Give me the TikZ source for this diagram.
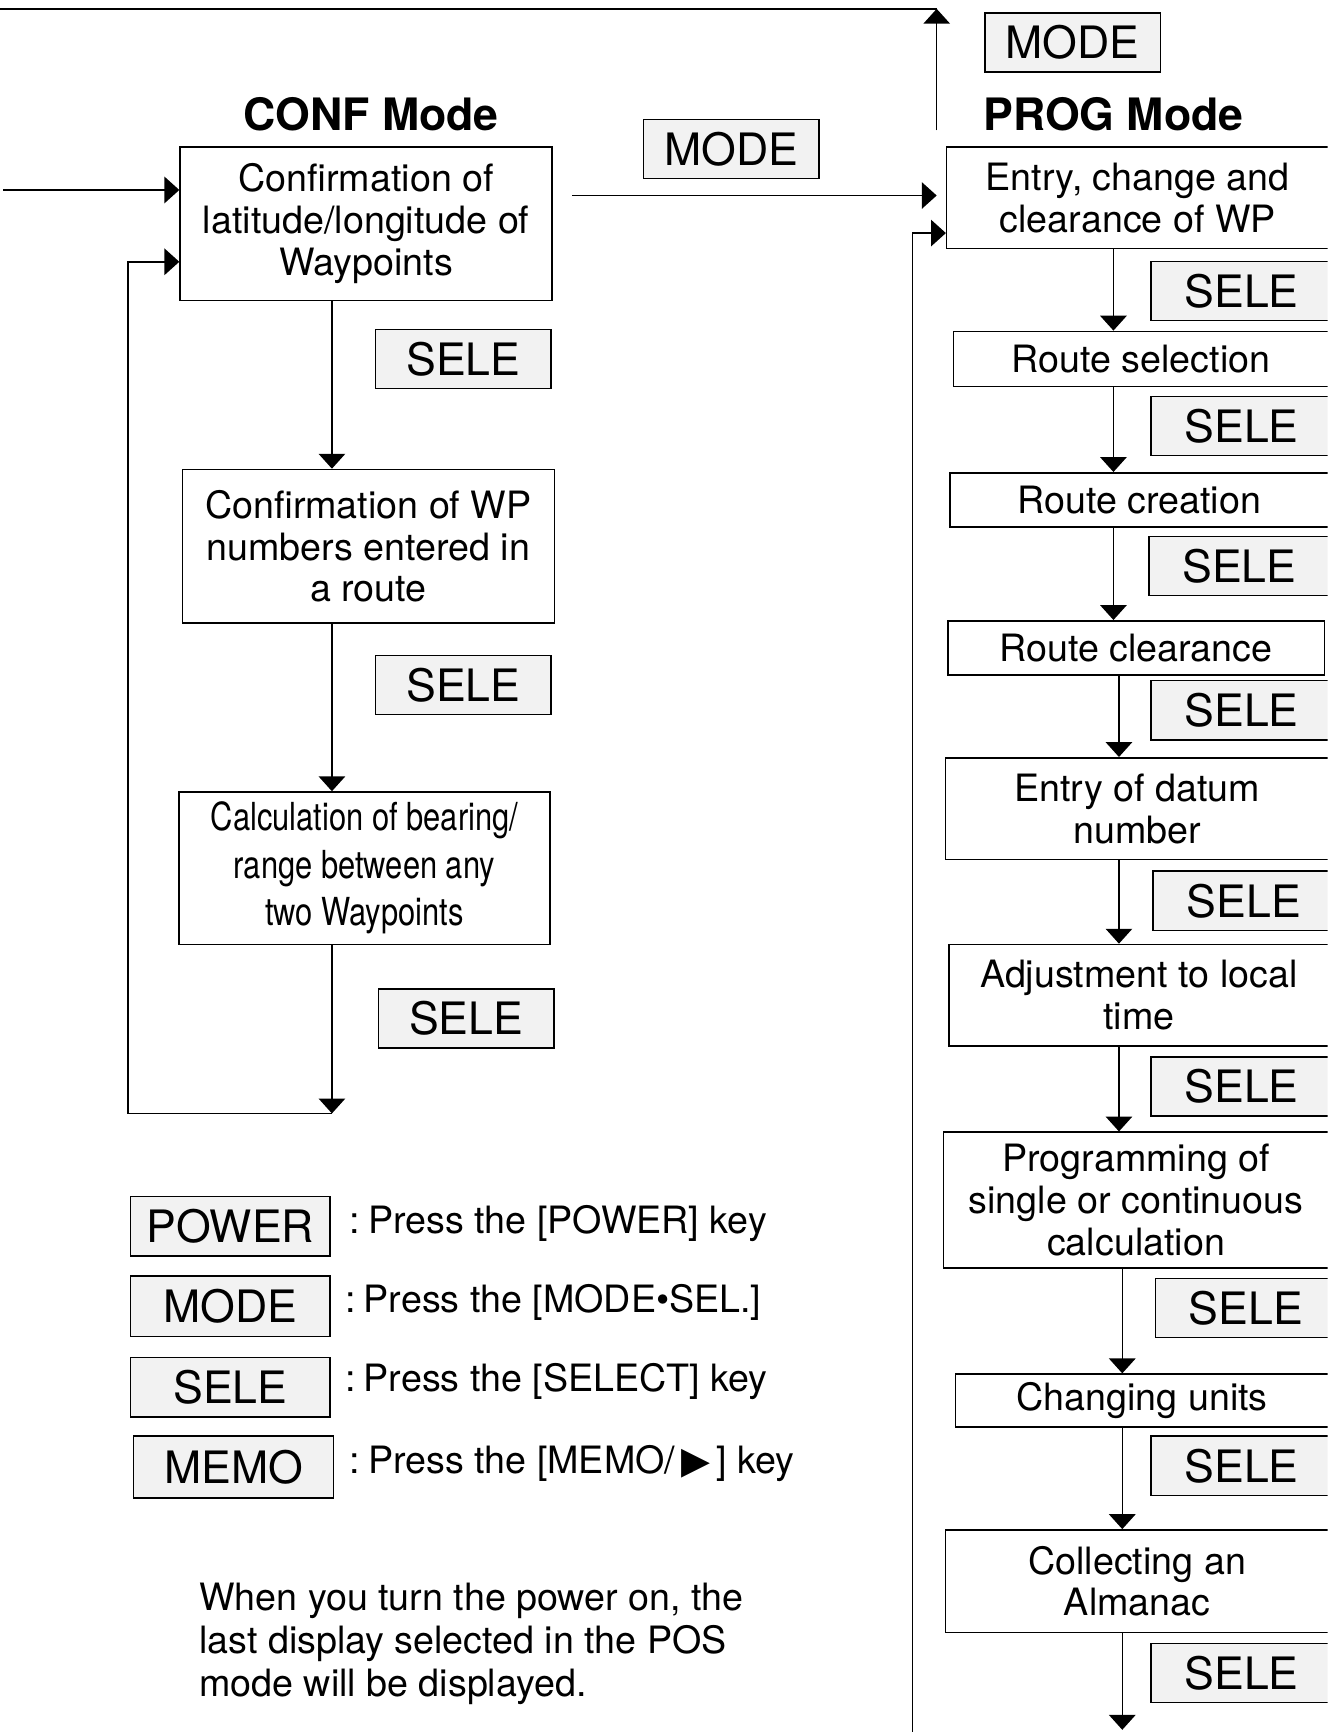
\documentclass[tikz,border=0pt]{standalone}
\usepackage{fontspec}
\setmainfont{TeX Gyre Heros}
\newfontfamily\narrowfont{TeX Gyre Heros}[FakeStretch=0.8]
\newfontfamily\symbolfont{DejaVu Sans}
\usetikzlibrary{arrows.meta}

\begin{document}
\begin{tikzpicture}[
    x=0.02cm,
    y=-0.02cm,
    font=\fontsize{19.4}{21.6}\selectfont,
    stage/.style={
        draw,
        line width=0.8pt,
        align=center,
        inner sep=0pt
    },
    key/.style={
        draw,
        line width=0.8pt,
        fill=gray!10,
        inner sep=0pt,
        minimum width=3.18cm,
        minimum height=1.07cm,
        font=\fontsize{23}{26}\selectfont
    },
    rkey/.style={
        key,
        minimum width=3.28cm
    },
    title/.style={
        font=\bfseries\fontsize{23}{26}\selectfont
    },
    arrow/.style={
        -{Triangle[width=0.48cm,length=0.27cm]},
        line width=0.8pt
    }
]

\useasboundingbox (0,0) rectangle (1202,1568);
\clip (0,0) rectangle (1202,1568);

% CONF mode
\node[title] (conftitle) at (336,103) {CONF Mode};
\node[stage, minimum width=6.74cm, minimum height=2.78cm] (conf1) at (331.5,202.5) {Confirmation of\\latitude/longitude of\\Waypoints};
\node[stage, minimum width=6.74cm, minimum height=2.78cm] (conf2) at (333.5,494.5) {Confirmation of WP\\numbers entered in\\a route};
\node[stage, minimum width=6.72cm, minimum height=2.76cm, font=\narrowfont\fontsize{19.9}{24.5}\selectfont] (conf3) at (330,786) {Calculation of bearing/\\range between any\\two Waypoints};

\node[key] (confsel1) at (419.5,325) {SELE};
\node[key] (confsel2) at (419.5,620) {SELE};
\node[key] (confsel3) at (422,922) {SELE};

\coordinate (confline) at (300.5,0);
\coordinate (confend) at (300.5,1008);
\coordinate (confback) at (116,237);
\coordinate (confin) at (3,172);

\draw[arrow] (conf1.south -| confline) -- (conf2.north -| confline);
\draw[arrow] (conf2.south -| confline) -- (conf3.north -| confline);
\draw[arrow] (conf3.south -| confline) -- (confend);
\draw[arrow] (confend) -| (confback) -- (conf1.west |- confback);
\draw[arrow] (confin) -- (conf1.west |- confin);

% MODE to PROG
\node[key] (modemid) at (662,135) {MODE};
\node[key] (modetop) at (971,38.5) {MODE};
\coordinate (modeout) at (518,177);
\coordinate (progup) at (848,118);
\coordinate (topcorner) at (848,8);
\coordinate (topleft) at (0,8);

\draw[arrow] (modeout) -- (progup |- modeout);
\draw[arrow] (progup) -- (topcorner);
\draw[line width=0.8pt] (topcorner) -- (topleft);

% PROG mode
\node[title] (progtitle) at (1008,103) {PROG Mode};
\node[stage, minimum width=6.92cm, minimum height=1.84cm] (prog1) at (1030,179) {Entry, change and\\clearance of WP};
\node[stage, minimum width=6.80cm, minimum height=1.00cm] (prog2) at (1033,325) {Route selection};
\node[stage, minimum width=6.86cm, minimum height=0.98cm] (prog3) at (1031.5,452.5) {Route creation};
\node[stage, minimum width=6.82cm, minimum height=0.98cm] (prog4) at (1028.5,586.5) {Route clearance};
\node[stage, minimum width=6.94cm, minimum height=1.84cm] (prog5) at (1029.5,732) {Entry of datum\\number};
\node[stage, minimum width=6.88cm, minimum height=1.84cm] (prog6) at (1031,901) {Adjustment to local\\time};
\node[stage, minimum width=6.98cm, minimum height=2.46cm] (prog7) at (1028.5,1086.5) {Programming of\\single or continuous\\calculation};
\node[stage, minimum width=6.76cm, minimum height=0.96cm] (prog8) at (1034,1268) {Changing units};
\node[stage, minimum width=6.94cm, minimum height=1.86cm] (prog9) at (1029.5,1431.5) {Collecting an\\Almanac};

\node[rkey] (progsel1) at (1124,263.5) {SELE};
\node[rkey] (progsel2) at (1124,385.5) {SELE};
\node[rkey] (progsel3) at (1122,512.5) {SELE};
\node[rkey] (progsel4) at (1124,643) {SELE};
\node[rkey] (progsel5) at (1126,815.5) {SELE};
\node[rkey] (progsel6) at (1124,983.5) {SELE};
\node[rkey] (progsel7) at (1128,1184) {SELE};
\node[rkey] (progsel8) at (1124,1327) {SELE};
\node[rkey] (progsel9) at (1124,1514.5) {SELE};

\coordinate (progline1) at (1008,0);
\coordinate (progline2) at (1013,0);
\coordinate (progline3) at (1016,0);
\coordinate (progend) at (1016,1566);
\coordinate (progin) at (826,1568);
\coordinate (progback) at (826,211);

\draw[arrow] (prog1.south -| progline1) -- (prog2.north -| progline1);
\draw[arrow] (prog2.south -| progline1) -- (prog3.north -| progline1);
\draw[arrow] (prog3.south -| progline1) -- (prog4.north -| progline1);
\draw[arrow] (prog4.south -| progline2) -- (prog5.north -| progline2);
\draw[arrow] (prog5.south -| progline2) -- (prog6.north -| progline2);
\draw[arrow] (prog6.south -| progline2) -- (prog7.north -| progline2);
\draw[arrow] (prog7.south -| progline3) -- (prog8.north -| progline3);
\draw[arrow] (prog8.south -| progline3) -- (prog9.north -| progline3);
\draw[arrow] (prog9.south -| progline3) -- (progend);
\draw[arrow] (progin) -- (progback) -- (prog1.west |- progback);

% key legend
\node[key, minimum width=3.62cm, minimum height=1.08cm] (legpower) at (208.5,1110) {POWER};
\node[key, minimum width=3.62cm, minimum height=1.10cm] (legmode) at (208.5,1182.5) {MODE};
\node[key, minimum width=3.62cm, minimum height=1.08cm] (legsele) at (208.5,1256) {SELE};
\node[key, minimum width=3.62cm, minimum height=1.12cm] (legmemo) at (211.5,1328) {MEMO};

\node[anchor=base west, inner sep=0pt] (txtpower) at (316,1117) {:\hspace{-0.15em} Press the [POWER] key};
\node[anchor=base west, inner sep=0pt] (txtmode) at (312,1188) {:\hspace{-0.15em} Press the [MODE•SEL.]};
\node[anchor=base west, inner sep=0pt] (txtsele) at (312,1260) {:\hspace{-0.15em} Press the [SELECT] key};
\node[anchor=base west, inner sep=0pt] (txtmemo) at (316,1334) {:\hspace{-0.15em} Press the [MEMO/\,{\symbolfont ▶}\,] key};

\node[anchor=north west, align=left, inner sep=0pt, font=\fontsize{19.4}{22.2}\selectfont] (powernote) at (180,1433) {When you turn the power on, the\\last display selected in the POS\\mode will be displayed.};

\end{tikzpicture}
\end{document}
